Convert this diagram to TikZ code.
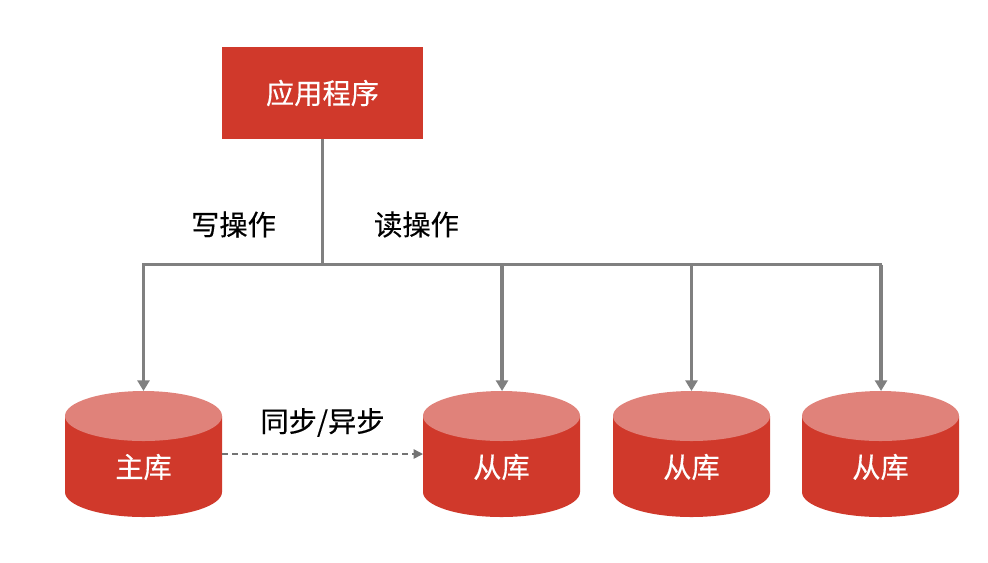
\documentclass[tikz,border=0pt]{standalone}
\usepackage{fontspec}
\setmainfont[FakeBold=0.25]{Noto Sans CJK SC}
\usetikzlibrary{arrows.meta}
\definecolor{brick}{HTML}{D0392B}
\definecolor{brickTop}{HTML}{E0827A}
\definecolor{wire}{HTML}{808080}
\tikzset{
  x=0.75pt,y=-0.75pt,
  appbox/.style={rectangle,fill=brick,text=white,minimum width=150.75pt,minimum height=69pt,inner sep=0pt,outer sep=0pt,font=\fontsize{21.2}{25}\selectfont},
  dbbox/.style={rectangle,minimum width=117.75pt,minimum height=94.5pt,inner sep=0pt,outer sep=0pt},
  dbtext/.style={text=white,inner sep=0pt,font=\fontsize{21.2}{25}\selectfont},
  lbl/.style={text=black,inner sep=0pt,font=\fontsize{21.2}{25}\selectfont},
  wireline/.style={draw=wire,line width=2.7pt},
  wirearrow/.style={wireline,-{Triangle[length=8pt,width=9pt]}},
  dasharrow/.style={draw=wire!90!black,line width=1.1pt,dash pattern=on 4.5pt off 3pt,-{Triangle[length=7pt,width=7pt]}},
}
\newcommand{\dbshape}[1]{%
  \fill[brick] (#1-78.5,416) -- (#1-78.5,492) arc[start angle=180,end angle=360,x radius=58.875pt,y radius=18.75pt] -- (#1+78.5,416) -- cycle;
  \fill[brickTop] (#1,416) ellipse[x radius=58.875pt,y radius=18.75pt];
}
\begin{document}
\begin{tikzpicture}
\useasboundingbox (0,0) rectangle (988,562);
\dbshape{143.5}
\dbshape{501.5}
\dbshape{691.5}
\dbshape{880.5}
\node[appbox] (app) at (322.5,93) {应用程序};
\node[dbbox] (m) at (143.5,454) {};
\node[dbbox] (s1) at (501.5,454) {};
\node[dbbox] (s2) at (691.5,454) {};
\node[dbbox] (s3) at (880.5,454) {};
\node[dbtext] (mt) at (143.5,467) {主库};
\node[dbtext] (s1t) at (501.5,467) {从库};
\node[dbtext] (s2t) at (691.5,467) {从库};
\node[dbtext] (s3t) at (880.5,467) {从库};
\node[lbl] (w) at (233.5,224.5) {写操作};
\node[lbl] (r) at (416.5,224.5) {读操作};
\node[lbl] (sync) at (322.5,422.5) {同步/异步};
\coordinate (bus) at (322.5,264.5);
\draw[wireline] (app.south) -- (bus);
\draw[wireline,line cap=rect] (m.north |- bus) -- (s3.north |- bus);
\draw[wirearrow] (m.north |- bus) -- (m.north);
\draw[wirearrow] ([xshift=0.4pt]s1.north |- bus) -- ([xshift=0.4pt]s1.north);
\draw[wirearrow] (s2.north |- bus) -- (s2.north);
\draw[wirearrow] ([xshift=0.4pt]s3.north |- bus) -- ([xshift=0.4pt]s3.north);
\draw[dasharrow] (m.east) -- (s1.west);
\end{tikzpicture}
\end{document}
